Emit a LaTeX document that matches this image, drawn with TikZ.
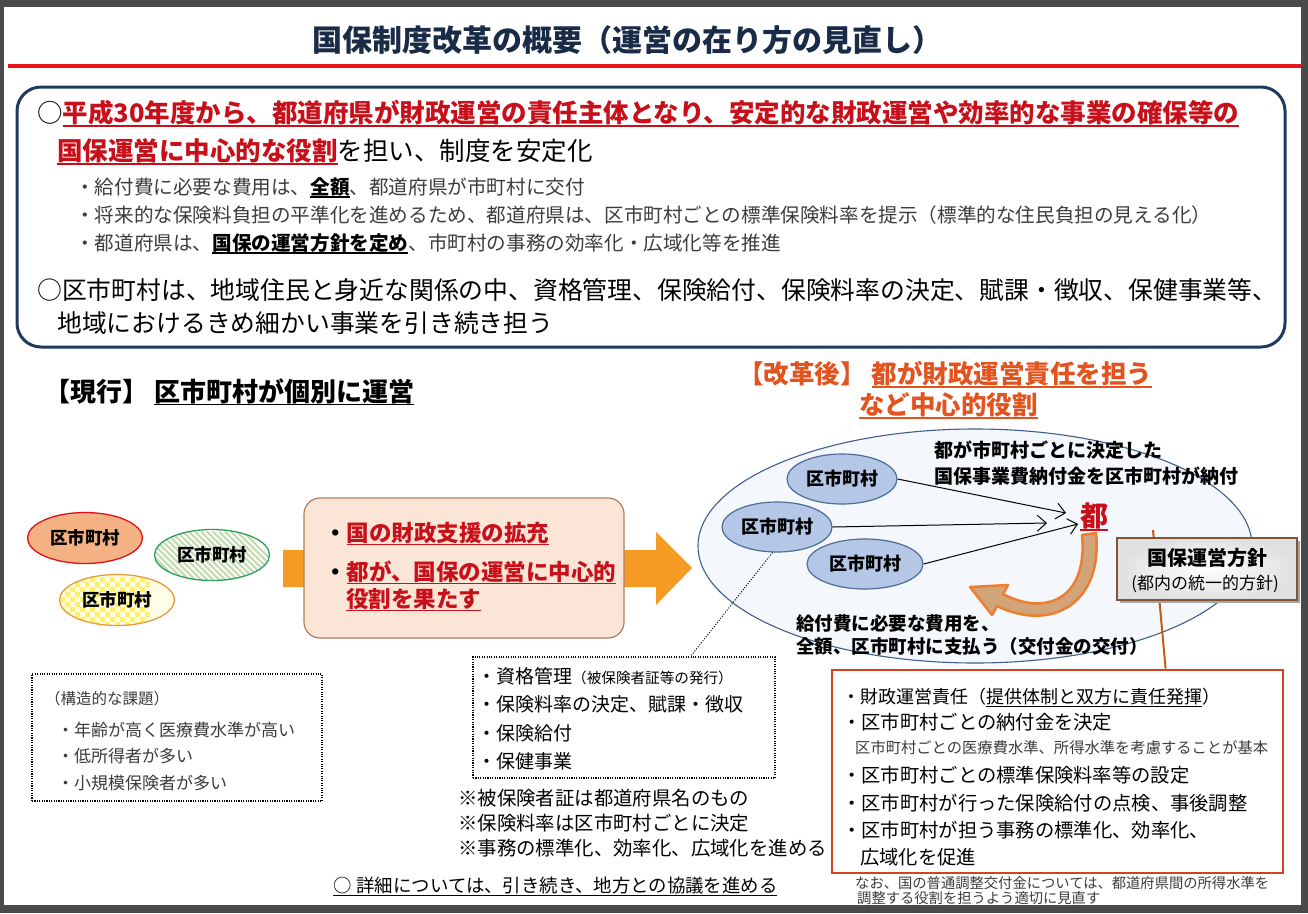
\documentclass[tikz,border=0pt]{standalone}
\usepackage{fontspec}
\setmainfont{Noto Sans CJK JP}
\usetikzlibrary{arrows.meta,shapes.geometric}
\definecolor{framegray}{HTML}{4A4A4A}
\definecolor{titlenavy}{HTML}{1A2B48}
\definecolor{titlered}{HTML}{E8141C}
\definecolor{boxnavy}{HTML}{1F3A5F}
\definecolor{dred}{HTML}{C8101A}
\definecolor{greytext}{HTML}{3C3C3C}
\definecolor{korange}{HTML}{E2531E}
\definecolor{arroworange}{HTML}{F59A23}
\definecolor{peach}{HTML}{FBE5D6}
\definecolor{peachb}{HTML}{B0805F}
\definecolor{salmon}{HTML}{F4B183}
\definecolor{ovred}{HTML}{E0101A}
\definecolor{ovgreen}{HTML}{2E9E5B}
\definecolor{stripec}{HTML}{C4DBB2}
\definecolor{ovorange}{HTML}{E79A3C}
\definecolor{checky}{HTML}{FFF06A}
\definecolor{checkbase}{HTML}{FFFDE6}
\definecolor{bigfill}{HTML}{F4F7FB}
\definecolor{bigdraw}{HTML}{3F5F8F}
\definecolor{bluefill}{HTML}{B4C7E7}
\definecolor{blueb}{HTML}{4A6D9A}
\definecolor{redbox}{HTML}{D5421C}
\definecolor{vline}{HTML}{C55A11}
\definecolor{curvefill}{HTML}{D2A47A}
\definecolor{curvedraw}{HTML}{ED7D31}
\definecolor{policyb}{HTML}{7F5539}
\newcommand\fs[1]{\fontsize{#1}{#1}\selectfont}
\newcommand\uln[1]{\setbox0=\hbox{#1}\rlap{\smash{\rule[-0.16em]{\wd0}{0.065em}}}\box0}
\tikzset{
  txt/.style={inner sep=0pt, anchor=west},
  ovl/.style={ellipse, inner sep=0pt, line width=1.3pt, minimum width=115pt, minimum height=51pt, font={\fs{17.5}\bfseries}},
  bluov/.style={ellipse, draw=blueb, fill=bluefill, line width=1.2pt, minimum width=110pt, minimum height=50pt, inner sep=0pt, font={\fs{18}\bfseries}},
  dotbox/.style={draw=black, line width=1.1pt, dash pattern=on 1.1pt off 1.3pt, inner sep=0pt},
  conn/.style={line width=1pt, -{Straight Barb[length=9pt,width=16pt]}},
}
\begin{document}
\begin{tikzpicture}[x=1pt,y=-1pt]
\fill[framegray] (0,0) rectangle (1308,913);
\fill[white] (4,7) rectangle (1301,905);
\useasboundingbox (0,0) rectangle (1308,913);

% title
\node[inner sep=0pt, font={\fs{30}\bfseries}, text=titlenavy] (title) at (627,40) {国保制度改革の概要（運営の在り方の見直し）};
\draw[titlered, line width=4pt] (8,66) -- (1301,66);

% top box
\draw[boxnavy, line width=3pt, rounded corners=24pt] (17,87) rectangle (1285,347);
\node[txt, font=\fs{25.5}] (l1) at (37,113) {○{\color{dred}\bfseries\uln{平成30年度から、都道府県が財政運営の責任主体となり、安定的な財政運営や効率的な事業の確保等の}}};
\node[txt, font=\fs{25.5}] (l2) at (57,151) {{\color{dred}\bfseries\uln{国保運営に中心的な役割}}を担い、制度を安定化};
\node[txt, font=\fs{19.6}, text=greytext] (b1) at (75,187) {・給付費に必要な費用は、{\color{black}\bfseries\uln{全額}}、都道府県が市町村に交付};
\node[txt, font=\fs{19.6}, text=greytext] (b2) at (75,215) {・将来的な保険料負担の平準化を進めるため、都道府県は、区市町村ごとの標準保険料率を提示（標準的な住民負担の見える化）};
\node[txt, font=\fs{19.6}, text=greytext] (b3) at (75,243) {・都道府県は、{\color{black}\bfseries\uln{国保の運営方針を定め}}、市町村の事務の効率化・広域化等を推進};
\node[txt, font=\fs{24.8}] (l3) at (37,290) {○区市町村は、地域住民と身近な関係の中、資格管理、保険給付、保険料率の決定、賦課・徴収、保健事業等、};
\node[txt, font=\fs{24.8}] (l4) at (57,323) {地域におけるきめ細かい事業を引き続き担う};

% section heads
\node[txt, font={\fs{26}\bfseries}] (cur) at (44,391) {【現行】\hspace{6pt}\uln{区市町村が個別に運営}};
\node[txt, font={\fs{25.5}\bfseries}, text=korange] (aft1) at (738,374) {【改革後】\hspace{6pt}\uln{都が財政運営責任を担う}};
\node[txt, font={\fs{25.5}\bfseries}, text=korange] (aft2) at (859,405) {\uln{など中心的役割}};

% left ovals
\node[ovl, draw=ovred, fill=salmon] (o1) at (85,538) {区市町村};
\node[ovl, draw=ovgreen, fill=white, path picture={
  \foreach \k in {-96,-90,...,96} \draw[stripec, line width=2.2pt] (\k-30,-30) -- (\k+30,30);
}] (o2) at (212,555) {区市町村};
\node[ovl, draw=ovorange, fill=checkbase, path picture={
  \foreach \i in {0,...,12}{\foreach \j in {0,...,5}{
    \fill[checky] (-62+10*\i,-30+10*\j) rectangle ++(5,5);
    \fill[checky] (-57+10*\i,-25+10*\j) rectangle ++(5,5);}}
}] (o3) at (117,600) {区市町村};

% big orange arrow and box
\fill[arroworange] (283,550) -- (656,550) -- (656,532) -- (692,568) -- (656,605) -- (656,587) -- (283,587) -- cycle;
\node[draw=peachb, fill=peach, rounded corners=16pt, minimum width=320pt, minimum height=140pt, line width=1.2pt] (pbox) at (464,568) {};
\node[txt, font={\fs{22.5}\bfseries}] (p1) at (324,533) {・{\color{dred}\uln{国の財政支援の拡充}}};
\node[txt, font={\fs{22.5}\bfseries}] (p2) at (324,572) {・{\color{dred}\uln{都が、国保の運営に中心的}}};
\node[txt, font={\fs{22.5}\bfseries}, text=dred] (p3) at (346,599) {\uln{役割を果たす}};

% right big ellipse
\node[ellipse, draw=bigdraw, fill=bigfill, line width=1.1pt, minimum width=554pt, minimum height=234pt] (big) at (975,546) {};
\coordinate (vtop) at (1153,530);

% red box (bottom right)
\node[draw=redbox, fill=white, line width=2.8pt, minimum width=451pt, minimum height=203pt, inner sep=0pt] (rbox) at (1057.5,771.5) {};
\draw[vline, line width=2pt] (vtop) -- ([xshift=335pt]rbox.north west);

% blue ovals
\node[bluov] (A) at (842,479) {区市町村};
\node[bluov] (B) at (777,527) {区市町村};
\node[bluov, minimum width=116pt] (C) at (865,564) {区市町村};
\node[inner sep=0pt, font={\fs{28}\bfseries}, text=dred] (to) at (1094,516) {\uln{都}};
\coordinate (tA) at (1066,513);
\coordinate (tB) at (1047,523);
\coordinate (tC) at (1078,524);
\draw[conn] (A.east) -- (tA);
\draw[conn] (B.east) -- (tB);
\draw[conn] (C.east) -- (tC);
\node[txt, font={\fs{19}\bfseries}] (n1) at (934,450) {都が市町村ごとに決定した};
\node[txt, font={\fs{19}\bfseries}] (n2) at (934,476) {国保事業費納付金を区市町村が納付};

% curved arrow
\filldraw[fill=curvefill, draw=curvedraw, line width=2.5pt, line join=round]
  (1082,535) .. controls (1088,598) and (1047,617) .. (1003,594)
  -- (1008,585) -- (970,587) -- (992,615) -- (997,606)
  .. controls (1053,633) and (1103,602) .. (1096,533) -- cycle;
\node[txt, font={\fs{18.5}\bfseries}] (n3) at (796,623) {給付費に必要な費用を、};
\node[txt, font={\fs{18.5}\bfseries}] (n4) at (796,646) {全額、区市町村に支払う（交付金の交付）};

% policy box
\fill[black!35] (1120,541) rectangle (1300,603);
\node[draw=policyb, line width=2pt, inner color=white, outer color=black!12, minimum width=180pt, minimum height=62pt, inner sep=0pt] (pol) at (1207,569) {};
\node[inner sep=0pt, font={\fs{20}\bfseries}] (pol1) at (1207,558) {国保運営方針};
\node[inner sep=0pt, font=\fs{17}] (pol2) at (1205,584) {(都内の統一的方針)};

% red box texts
\node[txt, font=\fs{18}] (r1) at (842,697) {・財政運営責任（\uln{提供体制と双方に責任発揮}）};
\node[txt, font=\fs{19.3}] (r2) at (842,722) {・区市町村ごとの納付金を決定};
\node[txt, font=\fs{15.3}, text=greytext] (r3) at (855,748) {区市町村ごとの医療費水準、所得水準を考慮することが基本};
\node[txt, font=\fs{19.3}] (r4) at (842,775) {・区市町村ごとの標準保険料率等の設定};
\node[txt, font=\fs{19.3}] (r5) at (842,803) {・区市町村が行った保険給付の点検、事後調整};
\node[txt, font=\fs{19.3}] (r6) at (842,830) {・区市町村が担う事務の標準化、効率化、};
\node[txt, font=\fs{19.3}] (r7) at (860,857) {広域化を促進};
\node[txt, font=\fs{14.3}, text=greytext] (r8) at (855,883) {なお、国の普通調整交付金については、都道府県間の所得水準を};
\node[txt, font=\fs{14.3}, text=greytext] (r9) at (857,898) {調整する役割を担うよう適切に見直す};

% left dotted box
\node[dotbox, minimum width=290pt, minimum height=127pt] (lbox) at (177,737.5) {};
\node[txt, font=\fs{15.5}, text=greytext] (k0) at (45,699) {（構造的な課題）};
\node[txt, font=\fs{17}, text=greytext] (k1) at (57,730) {・年齢が高く医療費水準が高い};
\node[txt, font=\fs{17}, text=greytext] (k2) at (57,756) {・低所得者が多い};
\node[txt, font=\fs{17}, text=greytext] (k3) at (57,783) {・小規模保険者が多い};

% middle dotted box
\node[dotbox, minimum width=302pt, minimum height=121pt] (mid) at (624,717.5) {};
\draw[line width=1pt, dash pattern=on 1pt off 1.6pt] (B.-100) -- ([xshift=-85pt]mid.north east);
\node[txt, font=\fs{19}] (m1) at (477,676) {・資格管理{\fs{14.6}（被保険者証等の発行）}};
\node[txt, font=\fs{19}] (m2) at (477,704) {・保険料率の決定、賦課・徴収};
\node[txt, font=\fs{19}] (m3) at (477,733) {・保険給付};
\node[txt, font=\fs{19}] (m4) at (477,761) {・保健事業};
\node[txt, font=\fs{19.4}] (s1) at (458,798) {※被保険者証は都道府県名のもの};
\node[txt, font=\fs{19.4}] (s2) at (458,823) {※保険料率は区市町村ごとに決定};
\node[txt, font=\fs{19.4}] (s3) at (458,848) {※事務の標準化、効率化、広域化を進める};
\node[txt, font=\fs{18.4}] (bot) at (333,886) {\uln{○\hspace{5pt}詳細については、引き続き、地方との協議を進める}};
\end{tikzpicture}
\end{document}
